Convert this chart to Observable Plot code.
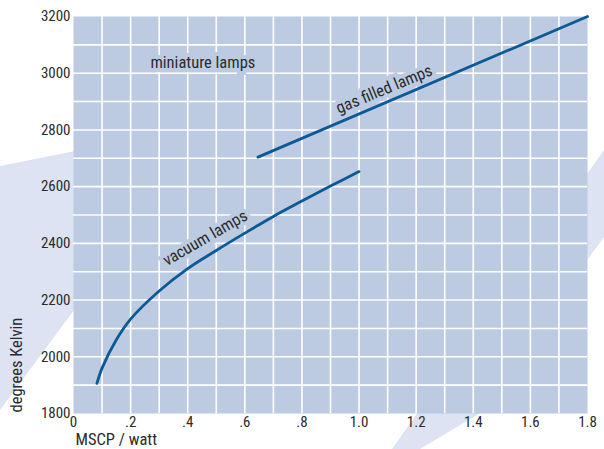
<!DOCTYPE html>
<html>
<head>
<meta charset="utf-8">
<script src="https://cdn.jsdelivr.net/npm/d3@7"></script>
<script src="https://cdn.jsdelivr.net/npm/@observablehq/plot@0.6"></script>
<style>
  html, body { margin: 0; padding: 0; background: #ffffff; }
  #wrap { position: relative; width: 604px; height: 449px; overflow: hidden; }
  .deco { position: absolute; left: 0; top: 0; width: 604px; height: 449px; background: #dde3f2; }
  #decoL { clip-path: polygon(0px 166px, 80px 150px, 80px 302px, 0px 410px); }
  #decoR { clip-path: polygon(604px 150px, 392px 449px, 420px 449px, 482px 412px, 587px 260px, 604px 237px); }
  #chart { position: absolute; left: 0; top: 0; }
</style>
</head>
<body>
<div id="wrap">
  <div class="deco" id="decoL"></div>
  <div class="deco" id="decoR"></div>
  <div id="chart"></div>
</div>
<script>
// Vacuum lamps curve (MSCP per watt vs degrees Kelvin)
const vacuumX = [0.082, 0.1, 0.15, 0.2, 0.3, 0.4, 0.5, 0.6, 0.7, 0.8, 0.9, 1.0];
const vacuumY = [1906, 1960, 2060, 2133, 2232, 2311, 2375, 2436, 2495, 2549, 2602, 2653];
// Gas filled lamps line
const gasX = [0.646, 1.8];
const gasY = [2704, 3200];

// Axis ticks and labels
const xTicks = [0, 0.2, 0.4, 0.6, 0.8, 1.0, 1.2, 1.4, 1.6, 1.8];
const xTickLabels = ["0", ".2", ".4", ".6", ".8", "1.0", "1.2", "1.4", "1.6", "1.8"];
const yTicks = [1800, 2000, 2200, 2400, 2600, 2800, 3000, 3200];
const yTickLabels = ["1800", "2000", "2200", "2400", "2600", "2800", "3000", "3200"];
const xGrid = [0.1, 0.2, 0.3, 0.4, 0.5, 0.6, 0.7, 0.8, 0.9, 1.0, 1.1, 1.2, 1.3, 1.4, 1.5, 1.6, 1.7];
const yGrid = [1900, 2000, 2100, 2200, 2300, 2400, 2500, 2600, 2700, 2800, 2900, 3000, 3100];

// Annotations
const labelText = ["miniature lamps", "gas filled lamps", "vacuum lamps"];
const labelX = [0.453, 1.088, 0.461];
const labelY = [3038, 2943, 2419];
const labelAngle = [0, -22.5, -30];

const xLabel = "MSCP / watt";
const yLabel = "degrees Kelvin";

const bg = "#bccbe2";
const lineColor = "#0b5a95";
const textColor = "#2b2b2b";
const font = "'Liberation Sans Narrow', 'Roboto Condensed', 'DejaVu Sans Condensed', sans-serif";

const vacuum = vacuumX.map((x, i) => ({x, y: vacuumY[i]}));
const gas = gasX.map((x, i) => ({x, y: gasY[i]}));
const labels = labelText.map((t, i) => ({t, x: labelX[i], y: labelY[i], a: labelAngle[i]}));

const chart = Plot.plot({
  width: 604,
  height: 449,
  marginLeft: 73,
  marginRight: 17,
  marginTop: 16,
  marginBottom: 36,
  style: {fontFamily: font, fontSize: "15px", color: textColor, background: "transparent", overflow: "visible"},
  x: {domain: [0, 1.8]},
  y: {domain: [1800, 3200]},
  marks: [
    Plot.frame({fill: bg, stroke: null}),
    Plot.ruleX(xGrid, {stroke: "white", strokeWidth: 1.6}),
    Plot.ruleY(yGrid, {stroke: "white", strokeWidth: 1.6}),
    Plot.axisX({ticks: xTicks, tickFormat: d => xTickLabels[xTicks.indexOf(d)], tickSize: 0, tickPadding: 3, label: null, fontSize: 15, fill: textColor}),
    Plot.axisY({ticks: yTicks, tickFormat: d => yTickLabels[yTicks.indexOf(d)], tickSize: 0, tickPadding: 3, label: null, fontSize: 15, fill: textColor}),
    Plot.text([xLabel], {frameAnchor: "bottom-left", dx: 2, dy: 31, textAnchor: "start", fontSize: 16.5, fill: textColor}),
    Plot.text([yLabel], {frameAnchor: "bottom-left", dx: -52, dy: -1, textAnchor: "start", rotate: -90, fontSize: 16.5, fill: textColor}),
    ...labels.map(d => Plot.text([d], {x: "x", y: "y", text: "t", rotate: d.a, fontSize: 16.5, fill: textColor, stroke: bg, strokeWidth: 8, strokeLinejoin: "miter"})),
    Plot.line(vacuum, {x: "x", y: "y", curve: "catmull-rom", stroke: lineColor, strokeWidth: 2.8}),
    Plot.line(gas, {x: "x", y: "y", stroke: lineColor, strokeWidth: 2.8})
  ]
});
document.getElementById("chart").appendChild(chart);
</script>
</body>
</html>
